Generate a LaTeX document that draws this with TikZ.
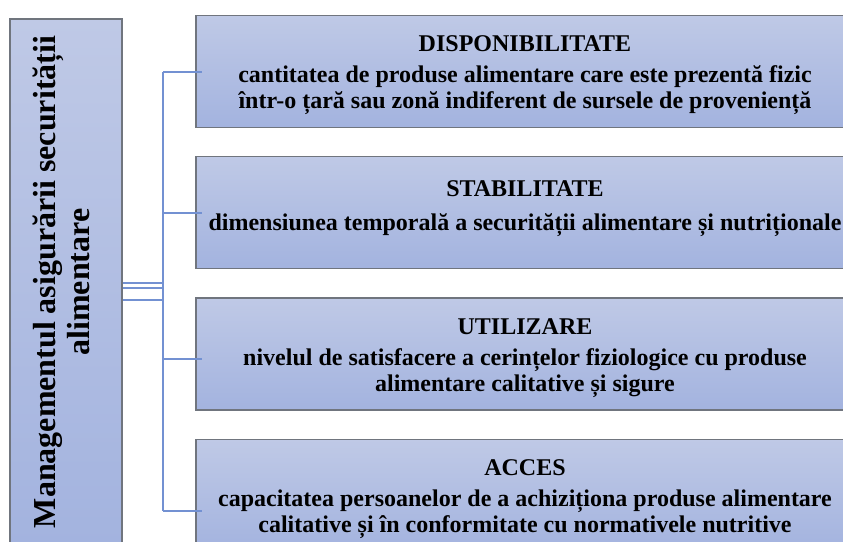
\documentclass[tikz,border=0pt]{standalone}
\usepackage{fontspec}
\setmainfont{Liberation Serif}
\usepackage{xcolor}
\usepackage{tikz}
\usetikzlibrary{calc,positioning}
\definecolor{boxtop}{HTML}{BFC9E6}
\definecolor{boxbot}{HTML}{A3B3DF}
\definecolor{boxedge}{HTML}{70757E}
\definecolor{linkblue}{HTML}{7391D2}
\tikzset{
    pillar/.style={draw=boxedge, line width=1.3pt, top color=boxtop, bottom color=boxbot, inner sep=0pt},
    dimbox/.style={pillar, align=center, minimum width=658pt, minimum height=112pt, font=\bfseries\fontsize{24}{26}\selectfont},
    link/.style={draw=linkblue, line width=2.8pt}
}

\begin{document}
\begin{tikzpicture}[x=1pt, y=-1pt]
    \useasboundingbox (0,0) rectangle (843,541);
    \clip (0,0) rectangle (843,541);

    \node [pillar, minimum width=112pt, minimum height=526pt] (mgmt_box) at (66,282)
        {\rotatebox{90}{\bfseries\fontsize{32}{34}\selectfont\begin{tabular}{@{}c@{}}Managementul asigurării securității\\alimentare\end{tabular}}};

    \node [dimbox] (disponibilitate) at (525,71.5) {\rule{0pt}{24pt}DISPONIBILITATE\\[5pt] cantitatea de produse alimentare care este prezentă fizic\\într-o țară sau zonă indiferent de sursele de proveniență};
    \node [dimbox, below=28pt of disponibilitate] (stabilitate) {STABILITATE\\[8pt] dimensiunea temporală a securității alimentare și nutriționale\rule[-14pt]{0pt}{0pt}};
    \node [dimbox, below=28pt of stabilitate] (utilizare) {\rule{0pt}{24pt}UTILIZARE\\[5pt] nivelul de satisfacere a cerințelor fiziologice cu produse\\alimentare calitative și sigure};
    \node [dimbox, below=28pt of utilizare] (acces) {\rule{0pt}{24pt}ACCES\\[5pt] capacitatea persoanelor de a achiziționa produse alimentare\\calitative și în conformitate cu normativele nutritive};

    \coordinate (bus_top) at (163,72);
    \coordinate (bus_bottom) at (163,511);
    \coordinate (bus_2) at (163,213);
    \coordinate (bus_3) at (163,359);

    \draw[link] (bus_top) -- (bus_bottom);
    \foreach \yy in {283,288,300}
        \draw[link] (mgmt_box.east |- 0,\yy) -- (bus_top |- 0,\yy);

    \draw[link] (bus_top) -- ($(disponibilitate.west |- bus_top)+(7,0)$);
    \draw[link] (bus_2) -- ($(stabilitate.west |- bus_2)+(7,0)$);
    \draw[link] (bus_3) -- ($(utilizare.west |- bus_3)+(7,0)$);
    \draw[link] (bus_bottom) -- ($(acces.west |- bus_bottom)+(7,0)$);
\end{tikzpicture}
\end{document}
